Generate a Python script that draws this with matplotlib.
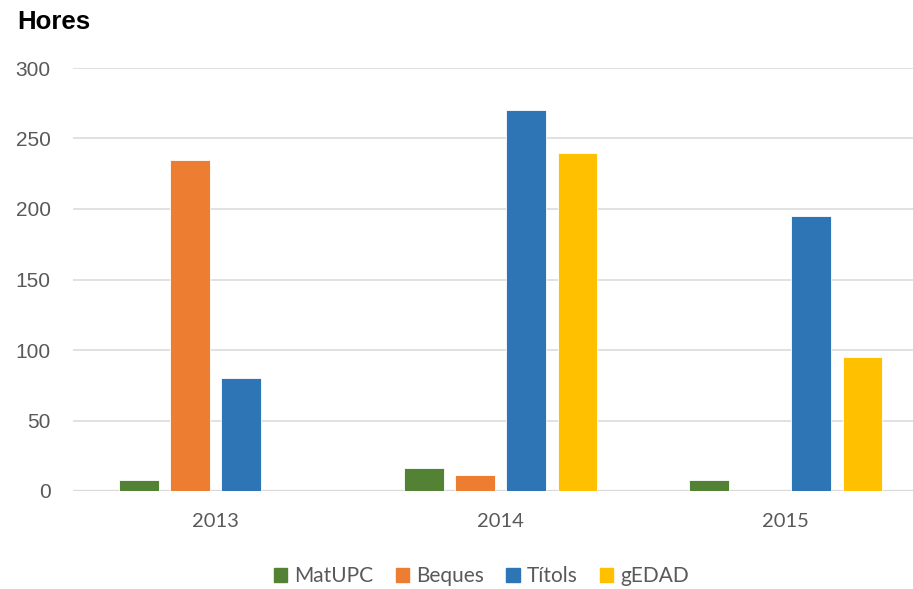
import numpy as np
import matplotlib.pyplot as plt
from matplotlib.patches import Rectangle

# data
years = ['2013', '2014', '2015']
series = ['MatUPC', 'Beques', 'Títols', 'gEDAD']
matupc = [8, 16, 8]
beques = [235, 11, 0]
titols = [80, 270, 195]
gedad = [0, 240, 95]
yticks = [0, 50, 100, 150, 200, 250, 300]

colors = ['#548235', '#ED7D31', '#2E75B6', '#FFC000']
values = [matupc, beques, titols, gedad]

W, H = 913, 589
fig = plt.figure(figsize=(W / 100, H / 100), dpi=100)
# right edge of the plot area runs past the figure, as in the reference
ax = fig.add_axes([73 / W, (H - 491) / H, 855 / W, 423 / H])

x = np.arange(len(years))
step, width = 0.18, 0.14
for i, (name, vals, col) in enumerate(zip(series, values, colors)):
    ax.bar(x + (i - 1.5) * step, vals, width, color=col, label=name,
           edgecolor='white', linewidth=0.6, zorder=3)

ax.set_xlim(-0.5, 2.5)
ax.set_ylim(0, 300)
ax.set_yticks(yticks)
ax.set_yticklabels([str(v) for v in yticks], family='Liberation Sans',
                   fontsize=15, color='#595959')
ax.set_xticks(x)
ax.set_xticklabels(years, family='Lato', fontsize=14.5, color='#595959')
ax.tick_params(axis='y', length=0, pad=16)
ax.tick_params(axis='x', length=0, pad=16)
ax.grid(axis='y', color='#d9d9d9', linewidth=1.1, zorder=0)
ax.axhline(0, color='#d9d9d9', linewidth=1.6, zorder=2)
for s in ax.spines.values():
    s.set_visible(False)

fig.text(17 / W, 1 - 29 / H, 'Hores', family='Liberation Sans',
         fontweight='bold', fontsize=18.5, va='baseline', ha='left')

handles = [Rectangle((0, 0), 1, 1, color=c) for c in colors]
fig.legend(handles, series, loc='center', bbox_to_anchor=(481.5 / W, 1 - 576 / H),
           ncol=4, frameon=False, handlelength=0.65, handleheight=0.65,
           handletextpad=0.35, columnspacing=1.05, borderaxespad=0,
           prop={'family': 'Lato', 'size': 15}, labelcolor='#595959')

fig.savefig('out.png', dpi=100)
